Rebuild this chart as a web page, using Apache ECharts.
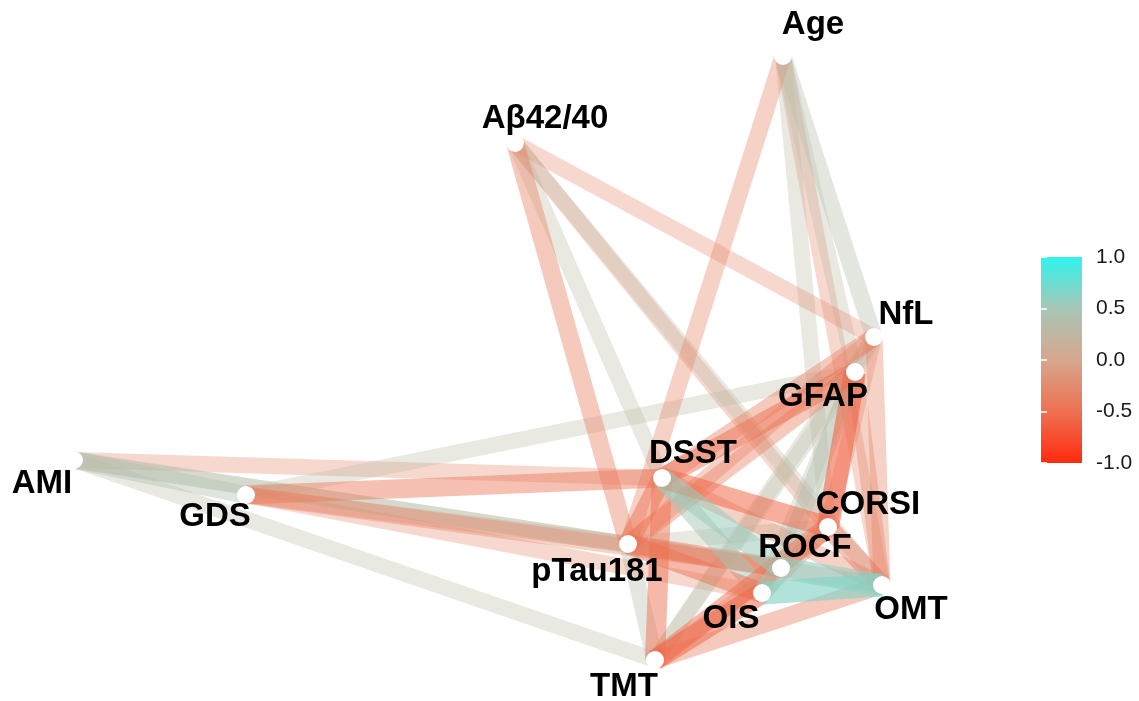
<!DOCTYPE html>
<html>
<head>
    <meta charset="UTF-8">
    <title>network plot</title>
    <script src="https://cdn.jsdelivr.net/npm/echarts@6/dist/echarts.min.js"></script>
</head>
<body style="margin:0;background:#fff;">
<div id="net" style="width:1139px;height:701px;"></div>
<script type="text/javascript">
    // nodes (MDS layout, plotted on a 1139 x 701 plane)
    var nodeNames = ['Age', 'Aβ42/40', 'NfL', 'GFAP', 'AMI', 'GDS', 'DSST', 'CORSI', 'pTau181', 'ROCF', 'OIS', 'OMT', 'TMT'];
    var nodeX = [783, 515, 874, 855, 74, 246, 662, 828, 628, 781, 762, 882, 655];
    var nodeY = [56, 143, 337, 372, 460, 495, 478, 527, 544, 568, 593, 585, 660];

    // correlations shown as edges
    var edgeFrom = ['Age', 'Age', 'Age', 'Age', 'Age',
        'Aβ42/40', 'Aβ42/40', 'Aβ42/40', 'Aβ42/40', 'Aβ42/40',
        'AMI', 'AMI', 'AMI', 'AMI', 'AMI',
        'GDS', 'GDS', 'GDS', 'GDS', 'GDS',
        'NfL', 'NfL', 'NfL', 'NfL', 'NfL', 'NfL',
        'GFAP', 'GFAP', 'GFAP', 'GFAP', 'GFAP', 'GFAP', 'GFAP',
        'DSST', 'DSST', 'DSST', 'DSST', 'DSST', 'DSST',
        'pTau181', 'pTau181', 'pTau181', 'pTau181', 'pTau181',
        'TMT', 'TMT', 'TMT', 'TMT',
        'OIS', 'ROCF', 'CORSI', 'CORSI', 'ROCF', 'ROCF'];
    var edgeTo = ['pTau181', 'OMT', 'GFAP', 'NfL', 'CORSI',
        'pTau181', 'DSST', 'CORSI', 'NfL', 'OMT',
        'GDS', 'DSST', 'ROCF', 'pTau181', 'TMT',
        'GFAP', 'DSST', 'pTau181', 'ROCF', 'OIS',
        'DSST', 'pTau181', 'OMT', 'CORSI', 'TMT', 'GFAP',
        'DSST', 'pTau181', 'CORSI', 'ROCF', 'OIS', 'TMT', 'OMT',
        'CORSI', 'TMT', 'pTau181', 'ROCF', 'OIS', 'OMT',
        'TMT', 'ROCF', 'OIS', 'OMT', 'CORSI',
        'OIS', 'ROCF', 'CORSI', 'OMT',
        'OMT', 'OMT', 'OMT', 'OIS', 'CORSI', 'OIS'];
    var edgeR = [-0.35, -0.3, 0.3, 0.35, 0.3,
        -0.4, 0.3, -0.3, -0.3, 0.3,
        0.4, -0.3, 0.35, 0.3, 0.3,
        0.3, -0.45, -0.3, -0.35, -0.3,
        -0.4, -0.35, -0.35, -0.3, 0.3, 0.3,
        -0.5, -0.4, -0.6, 0.4, 0.3, 0.3, -0.35,
        -0.55, -0.5, -0.5, 0.55, 0.5, -0.35,
        0.35, -0.45, -0.5, -0.3, 0.3,
        -0.55, -0.3, -0.5, -0.4,
        0.65, 0.6, -0.45, -0.35, 0.35, 0.5];

    // label offsets from node centre
    var labelDX = [30, 30, 32, -32, -32, -31, 31, 40, -31, 24, -31, 29, -31];
    var labelDY = [-31, -24, -22, 25, 24, 22, -24, -22, 28, -20, 26, 25, 27];

    // colour bar
    var barTicks = [-1, -0.5, 0, 0.5, 1];
    var barColors = ['#ff2a0e', '#ee7152', '#d6a78d', '#a7c6b6', '#30f4ee'];

    function corColor(r) {
        return echarts.color.lerp((r + 1) / 2, barColors);
    }

    var graphNodes = nodeNames.map(function (n, i) {
        return {name: n, value: [nodeX[i], nodeY[i]]};
    });
    var dots = nodeNames.map(function (n, i) {
        return {
            name: n,
            value: [nodeX[i], nodeY[i]],
            label: {offset: [labelDX[i], labelDY[i]]}
        };
    });

    var order = edgeR.map(function (r, i) { return i; });
    order.sort(function (a, b) { return Math.abs(edgeR[a]) - Math.abs(edgeR[b]); });
    var links = order.map(function (i) {
        var a = Math.abs(edgeR[i]);
        return {
            source: edgeFrom[i],
            target: edgeTo[i],
            lineStyle: {
                color: corColor(edgeR[i]),
                width: 10 + 20 * a,
                opacity: 0.05 + 0.9 * a
            }
        };
    });

    var stops = barTicks.map(function (t, i) {
        return {offset: (1 - t) / 2, color: barColors[i]};
    });

    var chart = echarts.init(document.getElementById('net'));
    var option = {
        animation: false,
        grid: [
            {left: 0, top: 0, width: 1139, height: 701},
            {left: 1041, top: 257, width: 41, height: 206}
        ],
        xAxis: [
            {type: 'value', min: 0, max: 1139, show: false, gridIndex: 0},
            {type: 'value', min: 0, max: 1, show: false, gridIndex: 1}
        ],
        yAxis: [
            {type: 'value', min: 0, max: 701, inverse: true, show: false, gridIndex: 0},
            {
                type: 'value', min: -1, max: 1, interval: 0.5, gridIndex: 1, position: 'right', z: 10,
                axisLine: {show: false},
                splitLine: {show: false},
                axisTick: {show: true, inside: true, length: 6, lineStyle: {color: '#ffffff', width: 1.5}},
                axisLabel: {
                    fontSize: 21, color: '#1a1a1a', margin: 14, fontFamily: 'Liberation Sans',
                    formatter: function (v) { return v.toFixed(1); }
                }
            },
            {
                type: 'value', min: -1, max: 1, interval: 0.5, gridIndex: 1, position: 'left', z: 10,
                axisLine: {show: false},
                splitLine: {show: false},
                axisTick: {show: true, inside: true, length: 6, lineStyle: {color: '#ffffff', width: 1.5}},
                axisLabel: {show: false}
            }
        ],
        series: [
            {
                type: 'graph',
                coordinateSystem: 'cartesian2d',
                xAxisIndex: 0,
                yAxisIndex: 0,
                layout: 'none',
                silent: true,
                symbolSize: 0,
                label: {show: false},
                lineStyle: {curveness: 0},
                z: 2,
                data: graphNodes,
                links: links
            },
            {
                type: 'scatter',
                xAxisIndex: 0,
                yAxisIndex: 0,
                silent: true,
                z: 5,
                symbol: 'circle',
                symbolSize: 18,
                itemStyle: {color: '#ffffff', opacity: 1},
                label: {
                    show: true,
                    position: 'inside',
                    color: '#000000',
                    fontSize: 33,
                    fontWeight: 'bold',
                    fontFamily: 'Liberation Sans',
                    formatter: '{b}'
                },
                data: dots
            },
            {
                type: 'custom',
                xAxisIndex: 1,
                yAxisIndex: 1,
                silent: true,
                data: [[0, 1]],
                renderItem: function (params, api) {
                    var p0 = api.coord([0, 1]);
                    var p1 = api.coord([1, -1]);
                    return {
                        type: 'rect',
                        shape: {x: p0[0], y: p0[1], width: p1[0] - p0[0], height: p1[1] - p0[1]},
                        style: {fill: new echarts.graphic.LinearGradient(0, 0, 0, 1, stops)}
                    };
                }
            }
        ]
    };
    chart.setOption(option);
</script>
</body>
</html>
